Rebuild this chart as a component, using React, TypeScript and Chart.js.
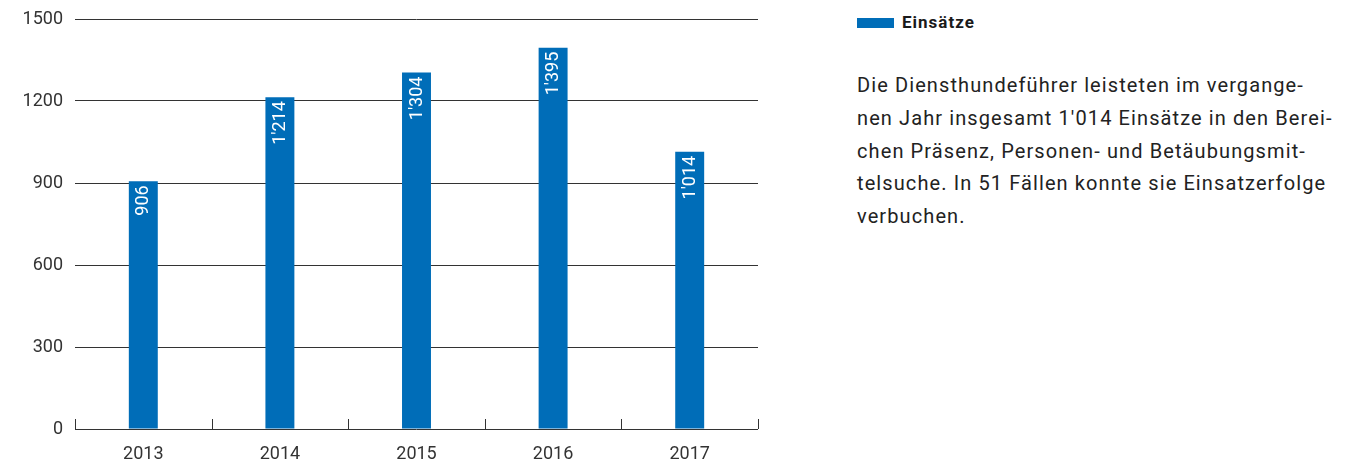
import React, { useEffect, useRef } from "react";
import { Chart, registerables } from "chart.js";

Chart.register(...registerables);

const categories = ["2013", "2014", "2015", "2016", "2017"];
const einsaetze = [906, 1214, 1304, 1395, 1014];
const yTicks = [0, 300, 600, 900, 1200, 1500];
const seriesName = "Einsätze";
const paragraphLines = [
  "Die Diensthundeführer leisteten im vergange-",
  "nen Jahr insgesamt 1'014 Einsätze in den Berei-",
  "chen Präsenz, Personen- und Betäubungsmit-",
  "telsuche. In 51 Fällen konnte sie Einsatzerfolge",
  "verbuchen.",
];

const BLUE = "#006db8";
const DARK = "#333333";
const FONT = "Roboto, 'Liberation Sans', sans-serif";

function fmt(n: number): string {
  if (n >= 1000) {
    return `${Math.floor(n / 1000)}'${String(n % 1000).padStart(3, "0")}`;
  }
  return String(n);
}

const boundaryTicks = {
  id: "boundaryTicks",
  afterDraw(chart: any) {
    const { ctx, chartArea } = chart;
    const n = categories.length;
    const w = chartArea.right - chartArea.left;
    ctx.save();
    ctx.strokeStyle = DARK;
    ctx.lineWidth = 1;
    for (let i = 0; i <= n; i++) {
      const x = Math.round(chartArea.left + (i * w) / n) + 0.5;
      ctx.beginPath();
      ctx.moveTo(x, chartArea.bottom - 10);
      ctx.lineTo(x, chartArea.bottom);
      ctx.stroke();
    }
    ctx.restore();
  },
};

const barLabels = {
  id: "barLabels",
  afterDatasetsDraw(chart: any) {
    const { ctx } = chart;
    const meta = chart.getDatasetMeta(0);
    const data = chart.data.datasets[0].data as number[];
    ctx.save();
    ctx.fillStyle = "#ffffff";
    ctx.font = `18px ${FONT}`;
    ctx.textAlign = "right";
    ctx.textBaseline = "middle";
    meta.data.forEach((el: any, i: number) => {
      ctx.save();
      ctx.translate(el.x + 0.5, el.y + 4);
      ctx.rotate(-Math.PI / 2);
      ctx.fillText(fmt(data[i]), 0, 0);
      ctx.restore();
    });
    ctx.restore();
  },
};

function BarChart() {
  const ref = useRef<HTMLCanvasElement | null>(null);
  useEffect(() => {
    if (!ref.current) return;
    const chart = new Chart(ref.current, {
      type: "bar",
      data: {
        labels: categories,
        datasets: [
          {
            label: seriesName,
            data: einsaetze,
            backgroundColor: BLUE,
            borderWidth: 0,
            barPercentage: 1,
            categoryPercentage: 0.212,
          },
        ],
      },
      options: {
        animation: false,
        responsive: false,
        layout: { padding: { top: 19, right: 32, left: 0, bottom: 0 } },
        plugins: {
          legend: { display: false },
          tooltip: { enabled: false },
        },
        scales: {
          x: {
            grid: { display: false },
            border: { display: false },
            ticks: {
              color: DARK,
              font: { family: FONT, size: 18 },
              padding: 7,
              maxRotation: 0,
            },
            afterFit(scale: any) {
              scale.height = 37;
            },
          },
          y: {
            min: 0,
            max: 1500,
            afterBuildTicks(scale: any) {
              scale.ticks = yTicks.map((v) => ({ value: v }));
            },
            grid: { color: DARK, lineWidth: 1, drawTicks: false },
            border: { display: false },
            ticks: {
              color: DARK,
              font: { family: FONT, size: 18, lineHeight: 0.1 },
              padding: 12,
              callback: (v: any) => String(v),
            },
            afterFit(scale: any) {
              scale.width = 75;
            },
          },
        },
      },
      plugins: [boundaryTicks, barLabels],
    });
    return () => chart.destroy();
  }, []);
  return <canvas ref={ref} width={790} height={466} style={{ display: "block" }} />;
}

export default function App() {
  return (
    <div
      style={{
        position: "absolute",
        left: 0,
        top: 0,
        width: 1353,
        height: 466,
        background: "#ffffff",
        overflow: "hidden",
        fontFamily: FONT,
      }}
    >
      <div style={{ position: "absolute", left: 0, top: 0 }}>
        <BarChart />
      </div>
      <div
        style={{
          position: "absolute",
          left: 857,
          top: 18,
          width: 37,
          height: 10,
          background: BLUE,
        }}
      />
      <div
        style={{
          position: "absolute",
          left: 902,
          top: 14,
          fontSize: 17,
          lineHeight: "16px",
          fontWeight: 700,
          color: "#1a1a1a",
          letterSpacing: 1,
          whiteSpace: "nowrap",
        }}
      >
        {seriesName}
      </div>
      <div
        style={{
          position: "absolute",
          left: 857,
          top: 69,
          fontSize: 20,
          lineHeight: "32.8px",
          color: "#222222",
          letterSpacing: 1.1,
          whiteSpace: "nowrap",
        }}
      >
        {paragraphLines.map((l, i) => (
          <div key={i}>{l}</div>
        ))}
      </div>
    </div>
  );
}
